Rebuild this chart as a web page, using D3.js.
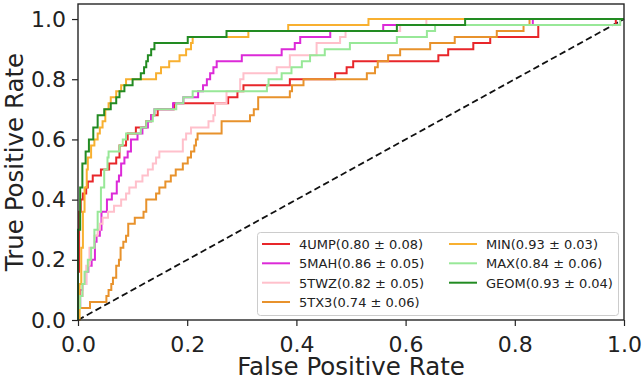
<!DOCTYPE html>
<html>
<head>
<meta charset="utf-8">
<script src="https://cdn.jsdelivr.net/npm/d3@7"></script>
<style>
  html, body { margin: 0; padding: 0; background: #fff; }
  svg { display: block; font-family: "DejaVu Sans", sans-serif; }
</style>
</head>
<body>
<div id="chart"></div>
<script>
// ROC curves: [fpr, tpr] corner points (step after)
const roc4UMP = [[0,0],[0,0.16],[0.002,0.36],[0.005,0.40],[0.009,0.42],[0.015,0.44],[0.018,0.46],[0.027,0.48],[0.042,0.50],[0.057,0.52],[0.070,0.54],[0.076,0.58],[0.088,0.60],[0.091,0.62],[0.106,0.64],[0.125,0.66],[0.134,0.68],[0.146,0.70],[0.176,0.72],[0.275,0.74],[0.292,0.76],[0.303,0.78],[0.388,0.80],[0.471,0.82],[0.492,0.84],[0.504,0.86],[0.660,0.88],[0.678,0.90],[0.724,0.92],[0.755,0.94],[0.843,0.98],[0.985,1.0],[1,1]];
const roc5MAH = [[0,0],[0,0.04],[0.004,0.10],[0.009,0.12],[0.015,0.16],[0.019,0.18],[0.025,0.20],[0.031,0.26],[0.034,0.28],[0.040,0.30],[0.043,0.36],[0.053,0.40],[0.062,0.42],[0.071,0.46],[0.075,0.48],[0.079,0.52],[0.085,0.54],[0.091,0.56],[0.097,0.60],[0.109,0.62],[0.118,0.64],[0.128,0.66],[0.134,0.68],[0.140,0.70],[0.174,0.72],[0.193,0.74],[0.220,0.76],[0.229,0.78],[0.236,0.80],[0.242,0.82],[0.248,0.84],[0.254,0.86],[0.300,0.88],[0.373,0.90],[0.397,0.92],[0.407,0.94],[0.462,0.96],[0.559,0.98],[0.833,1.0],[1,1]];
const roc5TWZ = [[0,0],[0,0.04],[0.003,0.08],[0.009,0.12],[0.015,0.18],[0.021,0.24],[0.030,0.28],[0.036,0.30],[0.040,0.32],[0.045,0.34],[0.055,0.36],[0.066,0.38],[0.079,0.40],[0.088,0.42],[0.094,0.44],[0.106,0.46],[0.118,0.48],[0.128,0.50],[0.137,0.52],[0.143,0.54],[0.149,0.56],[0.192,0.60],[0.198,0.62],[0.207,0.64],[0.239,0.66],[0.248,0.68],[0.251,0.72],[0.272,0.76],[0.297,0.80],[0.303,0.82],[0.364,0.84],[0.388,0.88],[0.437,0.92],[0.480,0.94],[0.490,0.96],[0.590,0.98],[0.638,1.0],[1,1]];
const roc5TX3 = [[0,0],[0,0.04],[0.022,0.06],[0.052,0.08],[0.056,0.10],[0.061,0.12],[0.064,0.14],[0.070,0.18],[0.075,0.20],[0.078,0.24],[0.083,0.26],[0.088,0.28],[0.092,0.32],[0.104,0.34],[0.120,0.36],[0.125,0.40],[0.143,0.42],[0.149,0.44],[0.160,0.46],[0.170,0.48],[0.179,0.50],[0.192,0.52],[0.201,0.54],[0.207,0.56],[0.213,0.58],[0.216,0.60],[0.219,0.62],[0.263,0.66],[0.315,0.68],[0.322,0.70],[0.330,0.74],[0.388,0.76],[0.392,0.78],[0.413,0.80],[0.529,0.82],[0.544,0.84],[0.549,0.86],[0.568,0.88],[0.590,0.90],[0.645,0.92],[0.690,0.94],[0.767,0.96],[0.816,0.98],[0.827,1.0],[1,1]];
const rocMIN = [[0,0],[0.003,0.12],[0.006,0.24],[0.009,0.36],[0.012,0.44],[0.016,0.50],[0.018,0.54],[0.024,0.58],[0.030,0.60],[0.036,0.62],[0.040,0.64],[0.045,0.66],[0.050,0.70],[0.056,0.72],[0.060,0.74],[0.070,0.76],[0.079,0.78],[0.088,0.80],[0.143,0.82],[0.152,0.84],[0.167,0.86],[0.186,0.88],[0.198,0.90],[0.207,0.92],[0.210,0.94],[0.312,0.96],[0.385,0.98],[0.532,1.0],[1,1]];
const rocMAX = [[0,0],[0,0.04],[0.004,0.08],[0.008,0.12],[0.012,0.16],[0.018,0.20],[0.024,0.24],[0.030,0.30],[0.036,0.36],[0.042,0.44],[0.048,0.50],[0.054,0.54],[0.056,0.56],[0.076,0.58],[0.082,0.60],[0.088,0.62],[0.115,0.64],[0.125,0.66],[0.137,0.68],[0.140,0.70],[0.180,0.72],[0.193,0.74],[0.210,0.76],[0.346,0.78],[0.349,0.80],[0.373,0.82],[0.391,0.84],[0.410,0.86],[0.425,0.88],[0.452,0.90],[0.498,0.92],[0.584,0.94],[0.639,0.96],[0.654,0.98],[0.993,1.0],[1,1]];
const rocGEOM = [[0,0],[0,0.30],[0.004,0.44],[0.008,0.52],[0.014,0.56],[0.020,0.60],[0.028,0.64],[0.036,0.68],[0.048,0.70],[0.060,0.72],[0.070,0.74],[0.076,0.76],[0.085,0.78],[0.100,0.80],[0.115,0.82],[0.121,0.84],[0.125,0.86],[0.128,0.88],[0.134,0.90],[0.140,0.92],[0.201,0.94],[0.272,0.96],[0.584,0.98],[0.709,1.0],[1,1]];

const seriesNames = ["4UMP", "5MAH", "5TWZ", "5TX3", "MIN", "MAX", "GEOM"];
const aucMeans = ["0.80", "0.86", "0.82", "0.74", "0.93", "0.84", "0.93"];
const aucStds = ["0.08", "0.05", "0.05", "0.06", "0.03", "0.06", "0.04"];
const seriesColors = ["#e8262a", "#dc2ad8", "#ffc0cb", "#e8922c", "#f8b030", "#98e898", "#228b22"];
const xTicks = [0, 0.2, 0.4, 0.6, 0.8, 1.0];
const yTicks = [0, 0.2, 0.4, 0.6, 0.8, 1.0];

const rocData = [roc4UMP, roc5MAH, roc5TWZ, roc5TX3, rocMIN, rocMAX, rocGEOM];

const width = 644, height = 380;
const margin = { top: 4, right: 20, bottom: 60, left: 78 };

const svg = d3.select("#chart").append("svg")
  .attr("width", width)
  .attr("height", height);

const x = d3.scaleLinear().domain([0, 1]).range([margin.left, width - margin.right]);
const y = d3.scaleLinear().domain([0, 1.05]).range([height - margin.bottom, margin.top]);

// 对角线参考
svg.append("line")
  .attr("x1", x(0)).attr("y1", y(0))
  .attr("x2", x(1)).attr("y2", y(1))
  .attr("stroke", "#111")
  .attr("stroke-width", 1.8)
  .attr("stroke-dasharray", "6.5,3.5");

const line = d3.line()
  .x(d => x(d[0]))
  .y(d => y(d[1]))
  .curve(d3.curveStepAfter);

svg.append("g")
  .selectAll("path")
  .data(rocData)
  .join("path")
  .attr("d", line)
  .attr("fill", "none")
  .attr("stroke", (d, i) => seriesColors[i])
  .attr("stroke-width", 2)
  .attr("stroke-linejoin", "miter");

// axes
const xAxis = svg.append("g")
  .attr("transform", `translate(0,${y(0)})`)
  .call(d3.axisBottom(x).tickValues(xTicks).tickFormat(d3.format(".1f")).tickSize(6).tickPadding(10));

const yAxis = svg.append("g")
  .attr("transform", `translate(${x(0)},0)`)
  .call(d3.axisLeft(y).tickValues(yTicks).tickFormat(d3.format(".1f")).tickSize(6).tickPadding(6));

[xAxis, yAxis].forEach(g => {
  g.select(".domain").remove();
  g.selectAll(".tick line").attr("stroke", "#222").attr("stroke-width", 1.2);
  g.selectAll(".tick text")
    .attr("fill", "#222")
    .style("font-family", "'DejaVu Sans', sans-serif")
    .style("font-size", "22px");
});

// frame
svg.append("rect")
  .attr("x", x(0)).attr("y", y(1.05))
  .attr("width", x(1) - x(0))
  .attr("height", y(0) - y(1.05))
  .attr("fill", "none")
  .attr("stroke", "#262626")
  .attr("stroke-width", 1.4);

svg.append("text")
  .attr("x", (x(0) + x(1)) / 2)
  .attr("y", 375)
  .attr("text-anchor", "middle")
  .attr("fill", "#222")
  .style("font-size", "24.5px")
  .text("False Positive Rate");

svg.append("text")
  .attr("transform", `translate(23,${(y(0) + y(1.05)) / 2}) rotate(-90)`)
  .attr("text-anchor", "middle")
  .attr("fill", "#222")
  .style("font-size", "24.5px")
  .text("True Positive Rate");

// legend
const legend = svg.append("g");
legend.append("rect")
  .attr("x", 257.5).attr("y", 232.5)
  .attr("width", 361).attr("height", 83)
  .attr("rx", 3)
  .attr("fill", "#fff").attr("fill-opacity", 0.85)
  .attr("stroke", "#cccccc");

const colX = [262, 449];
const rowY = [244, 263.3, 282.7, 302];
seriesNames.forEach((name, i) => {
  const col = i < 4 ? 0 : 1;
  const row = i < 4 ? i : i - 4;
  const lx = colX[col], ly = rowY[row];
  legend.append("line")
    .attr("x1", lx).attr("x2", lx + 28)
    .attr("y1", ly).attr("y2", ly)
    .attr("stroke", seriesColors[i])
    .attr("stroke-width", 2);
  legend.append("text")
    .attr("x", lx + 37)
    .attr("y", ly + 4.8)
    .attr("fill", "#222")
    .style("font-size", "13px")
    .text(`${name}(${aucMeans[i]} \u00b1 ${aucStds[i]})`);
});
</script>
</body>
</html>
